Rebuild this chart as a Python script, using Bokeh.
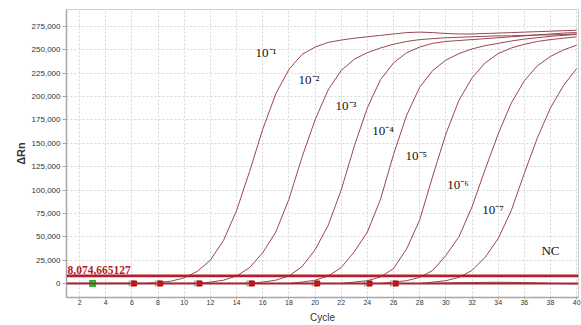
from bokeh.plotting import figure
from bokeh.models import (ColumnDataSource, Span, Label, FixedTicker,
                          NumeralTickFormatter, Range1d)
from bokeh.transform import dodge
from bokeh.core.properties import value
from bokeh.embed import file_html
from bokeh.resources import INLINE

# ---------------- data ----------------
cycles = list(range(1, 41))

d1 = [0, 0, 0, 0, 0, 0, 0, 1000, 2500, 6000, 13000, 25000, 46000, 78000, 120000,
      165000, 203000, 229000, 245000, 253000, 258000, 260500, 262500, 264000,
      265500, 267000, 268500, 269000, 268500, 267500, 267000, 267000, 267500,
      268000, 268500, 269000, 269500, 270000, 270500, 271000]
d2 = [0, 0, 0, 0, 0, 0, 0, 0, 0, 0, 0, 1500, 3500, 8000, 17000, 33000, 55000,
      90000, 135000, 175000, 207000, 228000, 240000, 247000, 252000, 256000,
      259000, 261000, 262000, 263000, 263500, 264000, 264500, 265000, 265000,
      265500, 266000, 266000, 266500, 267000]
d3 = [0, 0, 0, 0, 0, 0, 0, 0, 0, 0, 0, 0, 0, 0, 0, 1500, 3500, 8000, 18000,
      36000, 62000, 100000, 147000, 188000, 218000, 236000, 247000, 253000,
      257000, 259000, 260000, 261000, 262000, 263000, 264000, 265000, 266000,
      267000, 268000, 268500]
d4 = [0, 0, 0, 0, 0, 0, 0, 0, 0, 0, 0, 0, 0, 0, 0, 0, 0, 0, 1500, 3500, 8000,
      17000, 34000, 55000, 90000, 138000, 180000, 210000, 228000, 239000,
      246000, 251000, 254500, 257000, 259500, 261500, 263000, 264500, 265500,
      266500]
d5 = [0, 0, 0, 0, 0, 0, 0, 0, 0, 0, 0, 0, 0, 0, 0, 0, 0, 0, 0, 0, 0, 0, 1500,
      3000, 7000, 16000, 37000, 68000, 115000, 160000, 196000, 220000, 236000,
      246000, 252000, 256000, 259000, 261000, 262500, 264000]
d6 = [0, 0, 0, 0, 0, 0, 0, 0, 0, 0, 0, 0, 0, 0, 0, 0, 0, 0, 0, 0, 0, 0, 0, 0,
      0, 1500, 3000, 6500, 14000, 30000, 50000, 82000, 122000, 160000, 193000,
      217000, 233000, 243000, 250000, 255000]
d7 = [0, 0, 0, 0, 0, 0, 0, 0, 0, 0, 0, 0, 0, 0, 0, 0, 0, 0, 0, 0, 0, 0, 0, 0,
      0, 0, 0, 0, 1500, 3000, 6500, 14000, 28000, 48000, 78000, 118000, 156000,
      188000, 212000, 230000]
nc = [0, 0, 0, 0, 0, 0, 0, 0, 0, 0, 0, 0, 0, 0, 0, 0, 0, 0, 0, 0, 0, 0, 0, 0,
      0, 0, 0, 0, 0, 500, 800, 1000, 1200, 1300, 1200, 1000, 600, 200, -200, -500]
series = [d1, d2, d3, d4, d5, d6, d7, nc]

threshold = 8074.665127
threshold_text = "8,074,665127"

label_texts = ["10⁻¹", "10⁻²", "10⁻³", "10⁻⁴", "10⁻⁵", "10⁻⁶", "10⁻⁷", "NC"]
label_cycle = [15.45, 18.74, 21.57, 24.37, 26.92, 30.1, 32.78, 37.31]
label_value = [247700, 218300, 191000, 163700, 137000, 106000, 78700, 35300]

start_cycle = [3]
end_cycles = [6, 8, 11, 15, 20, 24, 26]

y_ticks = [0, 25000, 50000, 75000, 100000, 125000, 150000, 175000, 200000,
           225000, 250000, 275000]
x_ticks = list(range(2, 41, 2))

# ---------------- figure ----------------
p = figure(width=581, height=325, output_backend="svg", toolbar_location=None,
           x_range=Range1d(1, 40.14), y_range=Range1d(-15000, 293200),
           min_border_left=66, min_border_right=3, min_border_top=9,
           min_border_bottom=28)
p.background_fill_color = "white"
p.border_fill_color = "white"
p.outline_line_color = "#cfcfcf"

for g in (p.xgrid, p.ygrid):
    g.grid_line_color = "#d6d6d6"
    g.grid_line_dash = "2 2"
    g.grid_line_width = 1

p.yaxis.ticker = FixedTicker(ticks=y_ticks)
p.xaxis.ticker = FixedTicker(ticks=x_ticks)
p.yaxis.formatter = NumeralTickFormatter(format="0,0")

for ax in (p.xaxis, p.yaxis):
    ax.axis_line_color = "#a8a8a8"
    ax.axis_line_width = 1.5
    ax.major_tick_line_color = "#a8a8a8"
    ax.minor_tick_line_color = None
    ax.major_tick_in = 0
    ax.major_label_text_font = "Liberation Sans"
    ax.major_label_text_color = "#333333"
    ax.axis_label_text_font = "Liberation Sans"
    ax.axis_label_text_color = "#333333"

p.yaxis.major_tick_out = 4
p.yaxis.major_label_standoff = 2
p.yaxis.major_label_text_font_size = "8px"
p.yaxis.axis_label = "ΔRn"
p.yaxis.axis_label_text_font_size = "11px"
p.yaxis.axis_label_text_font_style = "bold"
p.yaxis.axis_label_standoff = 2

p.xaxis.major_tick_out = 2
p.xaxis.major_label_standoff = 0
p.xaxis.major_label_text_font_size = "7px"
p.xaxis.axis_label = "Cycle"
p.xaxis.axis_label_text_font_size = "10px"
p.xaxis.axis_label_text_font_style = "normal"
p.xaxis.axis_label_standoff = 4

curve_color = "#9a4650"

p.add_layout(Span(location=0, dimension="width", line_color="#9e2a36",
                  line_width=2))

for s in series:
    p.line(cycles, s, line_color=curve_color, line_width=1.0)

p.add_layout(Span(location=threshold, dimension="width", line_color="#b2202d",
                  line_width=2.8))
p.add_layout(Label(x=1, y=threshold, text=threshold_text, x_offset=1,
                   y_offset=2, text_font="Liberation Serif",
                   text_font_style="bold", text_font_size="11.5px",
                   text_color="#b22222"))

# baseline markers
ms = ColumnDataSource(dict(x=end_cycles, y=[0] * len(end_cycles)))
p.scatter(x=dodge("x", -0.03, range=p.x_range), y="y", source=ms,
          marker="square", size=5, fill_color="white", line_color="#888888",
          line_width=0.8)
p.scatter(x=dodge("x", 0.17, range=p.x_range), y="y", source=ms,
          marker="square", size=5, fill_color="#d40000", line_color="#d40000")
p.scatter(start_cycle, [0], marker="square", size=6, fill_color="#22cc22",
          line_color="#22aa22")

ls = ColumnDataSource(dict(x=label_cycle, y=label_value, t=label_texts))
p.text(x="x", y="y", text="t", source=ls, text_font=value("Liberation Serif"),
       text_font_size="13px", text_color="#111111", text_baseline="alphabetic",
       text_align="left")

open("out.html", "w").write(file_html(p, INLINE))
